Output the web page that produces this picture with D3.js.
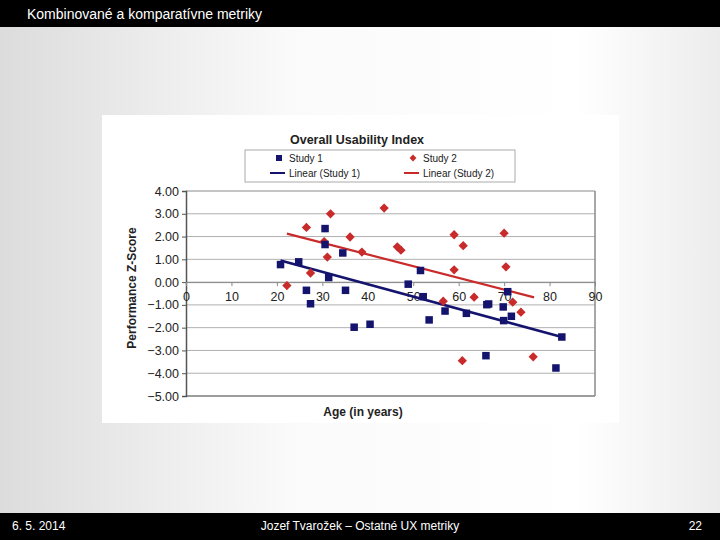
<!DOCTYPE html>
<html>
<head>
<meta charset="utf-8">
<script src="https://cdn.jsdelivr.net/npm/d3@7"></script>
<style>
  body { margin: 0; }
  svg { display: block; }
</style>
</head>
<body>
<div id="chart"></div>
<script>
// data: [age, z-score]
const study1 = [
  [20.8, 0.77], [24.8, 0.89], [26.5, -0.36], [27.4, -0.95], [30.6, 2.35],
  [30.6, 1.65], [31.4, 0.2], [34.5, 1.28], [35.1, -0.36], [37.0, -1.98],
  [40.5, -1.85], [48.9, -0.09], [51.6, 0.51], [52.2, -0.64], [53.5, -1.66],
  [57.0, -1.27], [61.7, -1.37], [66.0, -3.23], [66.2, -0.99], [66.6, -0.96],
  [69.8, -1.09], [69.9, -1.69], [70.8, -0.42], [71.6, -1.5], [81.4, -3.77],
  [82.7, -2.41]
];
const study2 = [
  [22.2, -0.15], [26.5, 2.4], [27.4, 0.4], [30.4, 1.78], [31.1, 1.1],
  [31.8, 3.0], [36.1, 1.98], [38.7, 1.32], [43.6, 3.25], [46.5, 1.55],
  [47.3, 1.4], [56.6, -0.84], [59.0, 2.08], [59.0, 0.54], [60.8, -3.45],
  [61.0, 1.6], [63.4, -0.66], [70.0, 2.15], [70.4, 0.67], [71.9, -0.88],
  [73.7, -1.32], [76.4, -3.28]
];
// linear trend lines (end points as drawn in the picture)
const trend1 = [[20.8, 0.95], [82.7, -2.41]];
const trend2 = [[22.2, 2.13], [76.6, -0.67]];

const xTicks = [0, 10, 20, 30, 40, 50, 60, 70, 80, 90];
const yTicks = [4, 3, 2, 1, 0, -1, -2, -3, -4, -5];

const blue = "#14146e", red = "#c92a2a";

const svg = d3.select("#chart").append("svg")
  .attr("width", 720).attr("height", 540)
  .style("font-family", "'Liberation Sans', Arial, sans-serif");

// slide background
const defs = svg.append("defs");
const grad = defs.append("linearGradient").attr("id", "bg")
  .attr("x1", "0%").attr("x2", "100%").attr("y1", "0%").attr("y2", "0%");
grad.append("stop").attr("offset", "0%").attr("stop-color", "#dcdcdc");
grad.append("stop").attr("offset", "40%").attr("stop-color", "#fafafa");
grad.append("stop").attr("offset", "80%").attr("stop-color", "#ffffff");
grad.append("stop").attr("offset", "100%").attr("stop-color", "#ececec");
svg.append("rect").attr("width", 720).attr("height", 540).attr("fill", "url(#bg)");

// header and footer bars
svg.append("rect").attr("width", 720).attr("height", 27).attr("fill", "#000");
svg.append("text").attr("x", 27).attr("y", 19).attr("fill", "#fff")
  .style("font-size", "14px").text("Kombinované a komparatívne metriky");
svg.append("rect").attr("y", 513).attr("width", 720).attr("height", 27).attr("fill", "#000");
svg.append("text").attr("x", 12).attr("y", 530).attr("fill", "#fff")
  .style("font-size", "12px").text("6. 5.  2014");
svg.append("text").attr("x", 360).attr("y", 530).attr("fill", "#fff")
  .attr("text-anchor", "middle").style("font-size", "12px")
  .text("Jozef Tvarožek – Ostatné UX metriky");
svg.append("text").attr("x", 702).attr("y", 530).attr("fill", "#fff")
  .attr("text-anchor", "end").style("font-size", "12px").text("22");

// chart picture
svg.append("rect").attr("x", 102).attr("y", 115).attr("width", 517).attr("height", 308)
  .attr("fill", "#fff");

const x = d3.scaleLinear().domain([0, 90]).range([186, 595]);
const y = d3.scaleLinear().domain([-5, 4]).range([396, 191]);

// grid and plot frame
svg.append("g").selectAll("line")
  .data(yTicks)
  .enter().append("line")
  .attr("x1", x(0)).attr("x2", x(90))
  .attr("y1", d => y(d)).attr("y2", d => y(d))
  .attr("stroke", d => (d === 4 ? "#8a8a8a" : "#b0b0b0"))
  .attr("stroke-width", 1);
svg.append("line").attr("x1", x(90)).attr("x2", x(90)).attr("y1", y(4)).attr("y2", y(-5))
  .attr("stroke", "#8a8a8a").attr("stroke-width", 1.5);
svg.append("line").attr("x1", x(0)).attr("x2", x(90)).attr("y1", y(-5)).attr("y2", y(-5))
  .attr("stroke", "#8a8a8a").attr("stroke-width", 1.5);

// Y axis
const yAxis = svg.append("g")
  .attr("transform", "translate(" + x(0) + ",0)")
  .call(d3.axisLeft(y).tickValues(yTicks).tickSize(4).tickFormat(d3.format(".2f")));
yAxis.select(".domain").attr("stroke", "#555").attr("stroke-width", 1.5);
yAxis.selectAll(".tick line").attr("stroke", "#555");
yAxis.selectAll(".tick text").attr("fill", "#222").style("font-size", "12.5px")
  .style("font-family", "'Liberation Sans', Arial, sans-serif");

// X axis crossing at zero
const xAxis = svg.append("g")
  .attr("transform", "translate(0," + y(0) + ")")
  .call(d3.axisBottom(x).tickValues(xTicks).tickSize(4).tickPadding(6));
xAxis.select(".domain").attr("stroke", "#888");
xAxis.selectAll(".tick line").attr("stroke", "#888");
xAxis.selectAll(".tick text").attr("fill", "#222").style("font-size", "12.5px")
  .style("font-family", "'Liberation Sans', Arial, sans-serif");

// trend lines
const line = d3.line().x(d => x(d[0])).y(d => y(d[1]));
svg.append("path").datum(trend1).attr("d", line)
  .attr("stroke", blue).attr("stroke-width", 2.5).attr("fill", "none");
svg.append("path").datum(trend2).attr("d", line)
  .attr("stroke", red).attr("stroke-width", 2.2).attr("fill", "none");

// points
svg.append("g").selectAll("path")
  .data(study2)
  .enter().append("path")
  .attr("d", d3.symbol().type(d3.symbolDiamond2).size(55))
  .attr("transform", d => "translate(" + x(d[0]) + "," + y(d[1]) + ")")
  .attr("fill", red);
svg.append("g").selectAll("rect")
  .data(study1)
  .enter().append("rect")
  .attr("x", d => x(d[0]) - 3.75).attr("y", d => y(d[1]) - 3.75)
  .attr("width", 7.5).attr("height", 7.5)
  .attr("fill", blue);

// titles
svg.append("text").attr("x", 357).attr("y", 144).attr("text-anchor", "middle")
  .attr("fill", "#222").style("font-size", "12.5px").style("font-weight", "bold")
  .text("Overall Usability Index");
svg.append("text").attr("x", 363).attr("y", 416).attr("text-anchor", "middle")
  .attr("fill", "#222").style("font-size", "12px").style("font-weight", "bold")
  .text("Age (in years)");
svg.append("text").attr("transform", "translate(136,288) rotate(-90)")
  .attr("text-anchor", "middle").attr("fill", "#222")
  .style("font-size", "12px").style("font-weight", "bold")
  .text("Performance Z-Score");

// legend
const lg = svg.append("g");
lg.append("rect").attr("x", 245).attr("y", 150).attr("width", 270).attr("height", 32)
  .attr("fill", "#fff").attr("stroke", "#aaa");
const lgItems = [
  { label: "Study 1", px: 276, py: 158, kind: "square", color: blue },
  { label: "Study 2", px: 410, py: 158, kind: "diamond", color: red },
  { label: "Linear (Study 1)", px: 276, py: 173, kind: "line", color: blue },
  { label: "Linear (Study 2)", px: 410, py: 173, kind: "line", color: red }
];
lgItems.forEach(function (it) {
  if (it.kind === "square") {
    lg.append("rect").attr("x", it.px).attr("y", it.py - 3).attr("width", 6).attr("height", 6)
      .attr("fill", it.color);
  } else if (it.kind === "diamond") {
    lg.append("path").attr("d", d3.symbol().type(d3.symbolDiamond2).size(30))
      .attr("transform", "translate(" + (it.px + 3) + "," + it.py + ")").attr("fill", it.color);
  } else {
    lg.append("line").attr("x1", it.px - 6).attr("x2", it.px + 9)
      .attr("y1", it.py).attr("y2", it.py)
      .attr("stroke", it.color).attr("stroke-width", 2);
  }
  lg.append("text").attr("x", it.px + 13).attr("y", it.py + 3.5)
    .attr("fill", "#222").style("font-size", "10px").text(it.label);
});
</script>
</body>
</html>
